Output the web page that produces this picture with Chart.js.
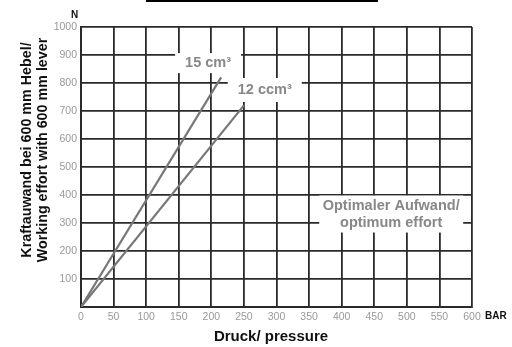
<!DOCTYPE html>
<html>
<head>
<meta charset="utf-8">
<script src="https://cdn.jsdelivr.net/npm/chart.js@4"></script>
<style>
  html, body { margin: 0; padding: 0; background: #fff; }
  #wrap { width: 512px; height: 347px; position: relative; }
</style>
</head>
<body>
<div id="wrap"><canvas id="kraft"></canvas></div>
<script>
// Druck (bar) gegen Kraftaufwand (N) am 600 mm Hebel
const druck15 = [0, 215];
const kraft15 = [0, 820];
const druck12 = [0, 250];
const kraft12 = [0, 720];

const xTicks = [0, 50, 100, 150, 200, 250, 300, 350, 400, 450, 500, 550, 600];
const yTicks = [100, 200, 300, 400, 500, 600, 700, 800, 900, 1000];

// Beschriftungen im Diagramm: Text + Lage in Datenkoordinaten (bar, N)
const labels = [
  { lines: ['15 cm³'], x: 195, y: 871, w: 66, h: 20 },
  { lines: ['12 ccm³'], x: 282, y: 775, w: 74, h: 24 },
  { lines: ['Optimaler Aufwand/', 'optimum effort'], x: 476, y: 332, w: 144, h: 37 }
];

const toPoints = (xs, ys) => xs.map((x, i) => ({ x: x, y: ys[i] }));

const extras = {
  id: 'extras',
  afterDraw(chart) {
    const c = chart.ctx;
    const xs = chart.scales.x, ys = chart.scales.y;
    c.save();

    // Rahmen oben (abgeschnittener Kasten)
    c.strokeStyle = '#000';
    c.lineWidth = 2;
    c.strokeRect(147, -20, 230, 21);

    // Beschriftungsfelder mit weißem Hintergrund
    labels.forEach(l => {
      const cx = xs.getPixelForValue(l.x);
      const cy = ys.getPixelForValue(l.y);
      c.fillStyle = '#fff';
      c.fillRect(cx - l.w / 2, cy - l.h / 2, l.w, l.h);
      c.fillStyle = '#888';
      c.font = 'bold 14.5px "Liberation Sans", Arial, sans-serif';
      c.textAlign = 'center';
      c.textBaseline = 'middle';
      const lh = 17;
      l.lines.forEach((t, i) => {
        c.fillText(t, cx, cy + (i - (l.lines.length - 1) / 2) * lh);
      });
    });

    // Einheiten
    c.fillStyle = '#111';
    c.font = 'bold 10px "Liberation Sans", Arial, sans-serif';
    c.textAlign = 'left';
    c.textBaseline = 'middle';
    c.fillText('N', 71, 15);
    c.fillText('BAR', 485, 316);

    // Achsentitel
    c.font = 'bold 15px "Liberation Sans", Arial, sans-serif';
    c.textAlign = 'center';
    c.fillText('Druck/ pressure', 271, 337);

    c.translate(35, 150);
    c.rotate(-Math.PI / 2);
    c.font = 'bold 14.3px "Liberation Sans", Arial, sans-serif';
    c.fillText('Kraftauwand bei 600 mm Hebel/', 0, -8);
    c.fillText('Working effort with 600 mm lever', 0, 8);
    c.restore();
  }
};

new Chart(document.getElementById('kraft'), {
  type: 'scatter',
  data: {
    datasets: [
      {
        label: '15 cm³',
        data: toPoints(druck15, kraft15),
        showLine: true,
        borderColor: '#777',
        borderWidth: 2.2,
        pointRadius: 0
      },
      {
        label: '12 ccm³',
        data: toPoints(druck12, kraft12),
        showLine: true,
        borderColor: '#777',
        borderWidth: 2.2,
        pointRadius: 0
      }
    ]
  },
  options: {
    responsive: true,
    maintainAspectRatio: false,
    animation: false,
    layout: { padding: { left: 0, right: 40, top: 27, bottom: 0 } },
    plugins: {
      legend: { display: false },
      tooltip: { enabled: false }
    },
    scales: {
      x: {
        type: 'linear',
        min: 0,
        max: 600,
        afterBuildTicks: s => { s.ticks = xTicks.map(v => ({ value: v })); },
        afterFit: s => { s.height = 40; },
        grid: { color: '#2a2a2a', lineWidth: 1.8, drawTicks: false },
        border: { color: '#2a2a2a', width: 2 },
        ticks: {
          color: '#999',
          padding: 4,
          font: { family: '"Liberation Sans", Arial, sans-serif', size: 10.5 }
        }
      },
      y: {
        type: 'linear',
        min: 0,
        max: 1000,
        afterBuildTicks: s => { s.ticks = [0].concat(yTicks).map(v => ({ value: v })); },
        afterFit: s => { s.width = 81; },
        grid: { color: '#2a2a2a', lineWidth: 1.8, drawTicks: false },
        border: { color: '#2a2a2a', width: 2 },
        ticks: {
          color: '#999',
          padding: 4,
          font: { family: '"Liberation Sans", Arial, sans-serif', size: 10.5 },
          callback: v => (v === 0 ? '' : v)
        }
      }
    }
  },
  plugins: [extras]
});
</script>
</body>
</html>
